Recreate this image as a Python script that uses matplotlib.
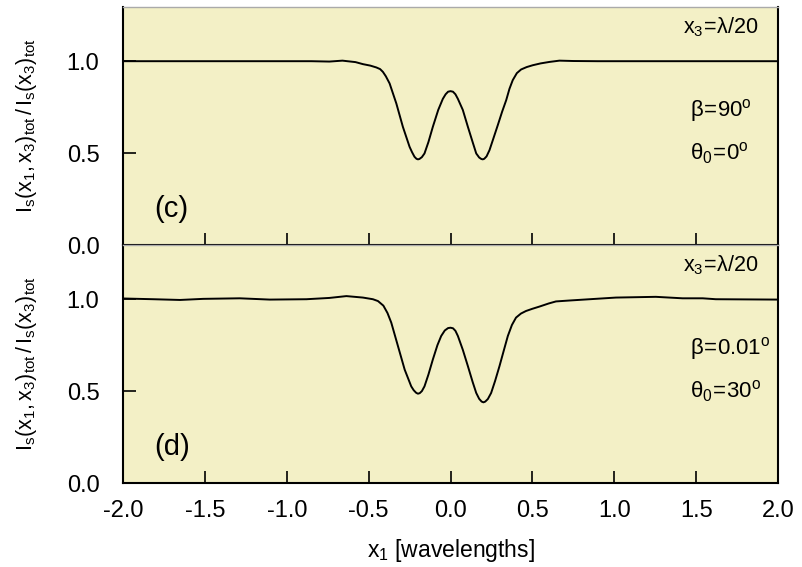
import numpy as np
import matplotlib
matplotlib.use("Agg")
import matplotlib.pyplot as plt

# panel (c): beta = 90 deg, theta0 = 0 deg
xc = [-2.0, -1.5, -1.0, -0.85, -0.74, -0.66, -0.58, -0.535, -0.49, -0.453,
      -0.43, -0.413, -0.395, -0.372, -0.331, -0.291, -0.25, -0.235, -0.22,
      -0.208, -0.199, -0.19, -0.175, -0.159, -0.135, -0.108, -0.075, -0.047,
      -0.03, -0.015, 0.0, 0.015, 0.03, 0.045, 0.075, 0.106, 0.135, 0.157,
      0.175, 0.188, 0.197, 0.206, 0.22, 0.238, 0.26, 0.289, 0.315, 0.34,
      0.36, 0.38, 0.405, 0.431, 0.465, 0.502, 0.55, 0.604, 0.665, 0.75,
      0.9, 1.2, 1.5, 2.0]
yc = [1.0, 1.0, 1.0, 1.0, 0.998, 1.003, 0.995, 0.984, 0.976, 0.966,
      0.957, 0.942, 0.918, 0.879, 0.770, 0.643, 0.534, 0.505, 0.480,
      0.469, 0.466, 0.468, 0.478, 0.498, 0.560, 0.643, 0.735, 0.795,
      0.820, 0.834, 0.837, 0.834, 0.820, 0.795, 0.735, 0.643, 0.560, 0.498,
      0.476, 0.468, 0.466, 0.469, 0.482, 0.516, 0.575, 0.653, 0.725, 0.788,
      0.850, 0.897, 0.935, 0.955, 0.968, 0.978, 0.988, 0.996, 1.003, 1.001,
      1.0, 1.0, 1.0, 1.0]

# panel (d): beta = 0.01 deg, theta0 = 30 deg
xd = [-2.0, -1.815, -1.652, -1.51, -1.287, -1.104, -0.88, -0.74, -0.636,
      -0.535, -0.474, -0.443, -0.41, -0.385, -0.362, -0.321, -0.28, -0.24,
      -0.225, -0.21, -0.199, -0.188, -0.175, -0.159, -0.135, -0.108, -0.08,
      -0.057, -0.035, -0.015, 0.0, 0.015, 0.03, 0.045, 0.075, 0.106, 0.135,
      0.157, 0.175, 0.19, 0.201, 0.212, 0.228, 0.248, 0.272, 0.299, 0.325,
      0.35, 0.375, 0.40, 0.43, 0.461, 0.5, 0.543, 0.6, 0.644, 0.726,
      0.85, 1.01, 1.254, 1.417, 1.54, 1.62, 2.0]
yd = [1.004, 1.0, 0.996, 1.002, 1.005, 0.998, 1.0, 1.007, 1.017,
      1.009, 1.0, 0.99, 0.965, 0.925, 0.873, 0.745, 0.617, 0.526,
      0.505, 0.491, 0.486, 0.489, 0.500, 0.526, 0.590, 0.672, 0.750,
      0.800, 0.830, 0.843, 0.845, 0.842, 0.828, 0.80, 0.725, 0.636, 0.550,
      0.49, 0.458, 0.443, 0.439, 0.443, 0.457, 0.49, 0.555, 0.636, 0.720,
      0.80, 0.860, 0.90, 0.922, 0.936, 0.948, 0.96, 0.977, 0.988, 0.993,
      1.0, 1.009, 1.013, 1.005, 1.005, 1.0, 0.998]

panels = [
    dict(x=xc, y=yc, tag="(c)", beta=r"$\mathregular{\beta\!=\!90^o}$",
         theta=r"$\mathregular{\theta_0\!=\!0^o}$"),
    dict(x=xd, y=yd, tag="(d)", beta=r"$\mathregular{\beta\!=\!0.01^o}$",
         theta=r"$\mathregular{\theta_0\!=\!30^o}$"),
]

plt.rcParams["font.family"] = ["Liberation Sans", "DejaVu Sans"]
plt.rcParams["mathtext.fontset"] = "custom"
plt.rcParams["mathtext.rm"] = "Liberation Sans"
plt.rcParams["mathtext.it"] = "Liberation Sans"

bg = "#f3f0c6"
fig = plt.figure(figsize=(8.02, 5.67), dpi=100)
ax_top = fig.add_axes([0.1534, 0.5679, 0.8167, 0.4198])
ax_bot = fig.add_axes([0.1534, 0.1481, 0.8167, 0.4198], sharex=ax_top)

ylab = r"$\mathregular{I_s(x_1,x_3)_{tot}\,/\,I_s(x_3)_{tot}}$"

for ax, p in zip([ax_top, ax_bot], panels):
    ax.set_facecolor(bg)
    ax.plot(p["x"], p["y"], color="black", lw=1.4)
    ax.set_xlim(-2.0, 2.0)
    ax.set_ylim(0.0, 1.295)
    ax.set_xticks([-2.0, -1.5, -1.0, -0.5, 0.0, 0.5, 1.0, 1.5, 2.0])
    ax.set_yticks([0.0, 0.5, 1.0])
    ax.set_yticklabels(["0.0", "0.5", "1.0"])
    ax.tick_params(direction="in", length=9, width=1.2, pad=17,
                   labelsize=17, top=False, right=False)
    ax.tick_params(axis="x", pad=12)
    for s in ["left", "bottom", "right"]:
        ax.spines[s].set_linewidth(1.5)
    ax.spines["top"].set_color("#aaaaaa")
    ax.spines["top"].set_linewidth(1.0)
    ax.set_ylabel(ylab, fontsize=15.5)
    ax.yaxis.set_label_coords(-0.128, 0.5)
    ax.text(0.97, 0.915, r"$\mathregular{x_3\!=\!\lambda/20}$", transform=ax.transAxes,
            ha="right", va="center", fontsize=15.5)
    ax.text(0.865, 0.567, p["beta"], transform=ax.transAxes,
            ha="left", va="center", fontsize=16)
    ax.text(0.865, 0.387, p["theta"], transform=ax.transAxes,
            ha="left", va="center", fontsize=16)
    ax.text(0.047, 0.15, p["tag"], transform=ax.transAxes,
            ha="left", va="center", fontsize=21)

ax_top.tick_params(labelbottom=False)
ax_bot.set_xticklabels(["-2.0", "-1.5", "-1.0", "-0.5", "0.0", "0.5", "1.0", "1.5", "2.0"])
ax_bot.set_xlabel(r"$\mathregular{x_1}$ [wavelengths]", fontsize=16.5)
ax_bot.xaxis.set_label_coords(0.5, -0.225)

fig.savefig("out.png", dpi=100, facecolor="white")
